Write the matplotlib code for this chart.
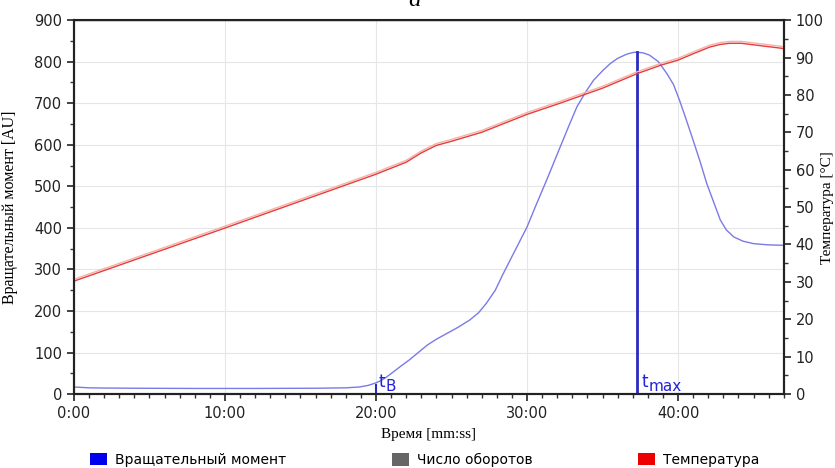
import matplotlib.pyplot as plt
from matplotlib.patches import Patch
from matplotlib.ticker import MultipleLocator, FuncFormatter

# время в минутах
t_torque = [0, 0.5, 1, 2, 4, 8, 12, 16, 18, 18.9, 19.5, 20.0, 20.3, 20.7, 21.1,
            21.6, 22.2, 22.8, 23.4, 24.0, 24.7, 25.4, 26.2, 26.8, 27.3, 27.9, 28.4,
            29.2, 30.0, 30.6, 31.3, 32.2, 32.8, 33.3, 33.9, 34.4, 35.0, 35.5, 36.0,
            36.6, 37.0, 37.3, 37.7, 38.1, 38.7, 39.25, 39.7, 40.1, 40.5, 41.0, 41.5,
            41.9, 42.4, 42.8, 43.2, 43.7, 44.3, 45.0, 46.0, 47.0]
torque = [17, 16, 15, 14.5, 14, 13.5, 13.5, 14, 15, 17, 21, 27, 32, 41, 52,
          66, 82, 100, 118, 132, 146, 160, 178, 196, 218, 250, 288,
          345, 402, 455, 515, 595, 648, 691, 728, 755, 778, 795, 808,
          818, 822, 823, 821, 816, 800, 772, 745, 707, 665, 611, 555,
          507, 458, 419, 395, 378, 368, 362, 359, 358]

t_temp = [0, 5, 10, 15, 20, 21, 22, 23, 24, 25, 27, 30, 32.2, 35, 37.3, 38.9, 40,
          41, 42.1, 42.8, 43.4, 44.2, 45.0, 46.0, 47.0]
temp = [30.2, 37.3, 44.4, 51.6, 58.8, 60.4, 62.0, 64.5, 66.5, 67.6, 70.0, 74.8,
        77.8, 81.8, 85.7, 88.0, 89.3, 91.0, 92.8, 93.5, 93.8, 93.8, 93.4, 92.9, 92.4]

t_b = 20.0
t_max = 37.3
torque_max = 823

legend_labels = ['Вращательный момент', 'Число оборотов', 'Температура']
legend_colors = ['#0000ee', '#666666', '#ee0000']

fig = plt.figure(figsize=(8.35, 4.68), dpi=100)
ax = fig.add_axes([0.0886, 0.158, 0.850, 0.799])
ax2 = ax.twinx()

ax.plot(t_torque, torque, color='#7a7ae8', lw=1.0, zorder=3)
ax.plot([t_max, t_max], [0, torque_max], color='#2b2bc0', lw=2.0, zorder=4)
ax.plot([t_b, t_b], [0, 22], color='#2b2bc0', lw=1.5, zorder=4)

# метки t_B и t_max: "t" и индекс отдельными текстами
lbl = dict(color='#2222dd', textcoords='offset points', va='bottom', ha='left')
ax.annotate('t', (t_b, 0), xytext=(1.5, 2.5), fontsize=12, **lbl)
ax.annotate('B', (t_b, 0), xytext=(7, 0), fontsize=11, **lbl)
ax.annotate('t', (t_max, 0), xytext=(3, 2.5), fontsize=12, **lbl)
ax.annotate('max', (t_max, 0), xytext=(8.5, 0), fontsize=11, **lbl)

ax2.plot(t_temp, [v + 0.5 for v in temp], color='#f3b3a8', lw=1.0)
ax2.plot(t_temp, temp, color='#e83c3c', lw=1.0)

ax.set_xlim(0, 47)
ax.set_ylim(0, 900)
ax2.set_ylim(0, 100)
ax.xaxis.set_major_locator(MultipleLocator(10))
ax.xaxis.set_minor_locator(MultipleLocator(1))
ax.xaxis.set_major_formatter(FuncFormatter(lambda v, p: '%d:00' % v))
ax.yaxis.set_major_locator(MultipleLocator(100))
ax.yaxis.set_minor_locator(MultipleLocator(50))
ax2.yaxis.set_major_locator(MultipleLocator(10))
ax2.yaxis.set_minor_locator(MultipleLocator(5))

ax.grid(True, which='major', color='#e6e6e6', lw=0.8)
ax.set_axisbelow(True)

for a in (ax, ax2):
    a.tick_params(which='major', length=5, width=1.2, labelsize=10.5, colors='#222222')
    a.tick_params(which='minor', length=3, width=1.0, colors='#333333')
    for s in a.spines.values():
        s.set_linewidth(1.5)
        s.set_color('#222222')
ax.spines['top'].set_linewidth(1.0)

serif = 'Liberation Serif'
ax.set_xlabel('Время [mm:ss]', family=serif, fontsize=11, labelpad=5)
fig.text(0.002, 0.557, 'Вращательный момент [AU]', family=serif, fontsize=11.5,
         rotation=90, ha='left', va='center')
fig.text(0.999, 0.556, 'Температура [°C]', family=serif, fontsize=11,
         rotation=90, ha='right', va='center')

# легенда: три отдельных элемента
legend_x = [90, 392, 638]
for lab, col, xp in zip(legend_labels, legend_colors, legend_x):
    fig.legend([Patch(facecolor=col, edgecolor='none')], [lab],
               loc='center left', bbox_to_anchor=(xp / 835, 1 - 460 / 468),
               frameon=False, fontsize=10, borderpad=0, borderaxespad=0,
               handlelength=1.2, handleheight=1.0, handletextpad=0.6)

fig.text(0.497, 1.0, 'а', family=serif, style='italic', fontsize=18,
         ha='center', va='center')

fig.savefig('out.png', dpi=100)
